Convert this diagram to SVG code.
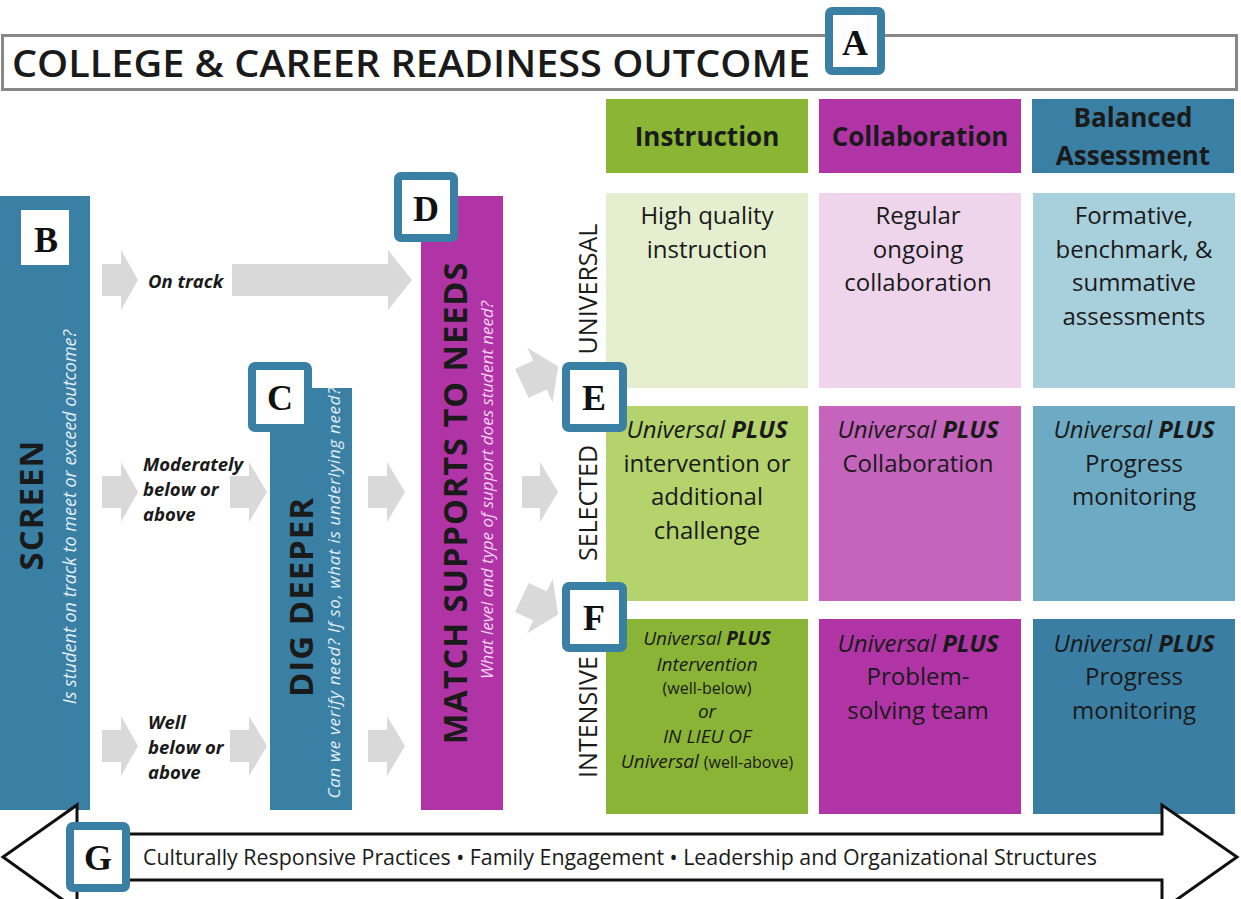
<svg xmlns="http://www.w3.org/2000/svg" width="1241" height="899" viewBox="0 0 1241 899">
<style>
text{font-family:"Open Sans","Liberation Sans",sans-serif;fill:#1a1a1a}
.cell{font-size:24px;text-anchor:middle}
.hdr{font-size:26px;font-weight:bold;text-anchor:middle}
.it{font-style:italic}
.bi{font-style:italic;font-weight:bold}
.lbl{font-family:"Liberation Serif",serif;font-weight:bold;font-size:36px;text-anchor:middle;fill:#111}
.badge{fill:#fff;stroke:#3a7fa4;stroke-width:8}
.arr{fill:#d9d9d9}
.flow{font-size:18.5px;font-style:italic;font-weight:bold}
.big{font-weight:bold;text-anchor:middle;letter-spacing:1px}
.sub{font-style:italic;text-anchor:middle}
.tier{font-size:25px;text-anchor:middle}
.small{font-size:19px;text-anchor:middle}
</style>
<rect width="1241" height="899" fill="#fff"/>

<g id="title">
<rect x="2.5" y="35.5" width="1234" height="54" fill="#fff" stroke="#888" stroke-width="3"/>
<text x="12" y="77" font-size="38" font-weight="600" textLength="798" lengthAdjust="spacingAndGlyphs">COLLEGE &amp; CAREER READINESS OUTCOME</text>
</g>
<g id="badge-A"><rect class="badge" x="829" y="11" width="52" height="60" rx="3"/><text class="lbl" x="855" y="55">A</text></g>

<g id="headers">
<rect x="606" y="99" width="202" height="74" fill="#8ab535"/>
<text class="hdr" x="707" y="146">Instruction</text>
<rect x="819" y="99" width="202" height="74" fill="#b134a7"/>
<text class="hdr" x="920" y="146">Collaboration</text>
<rect x="1032" y="99" width="202" height="74" fill="#3a7fa4"/>
<text class="hdr" x="1133" y="127">Balanced</text>
<text class="hdr" x="1133" y="165">Assessment</text>
</g>

<g id="universal-row">
<rect x="606" y="193" width="202" height="195" fill="#e5efd0"/>
<text class="cell" x="707" y="224">High quality</text>
<text class="cell" x="707" y="258">instruction</text>
<rect x="819" y="193" width="202" height="195" fill="#eed5ec"/>
<text class="cell" x="918" y="224">Regular</text>
<text class="cell" x="918" y="258">ongoing</text>
<text class="cell" x="918" y="291">collaboration</text>
<rect x="1033" y="193" width="202" height="195" fill="#a8cfdc"/>
<text class="cell" x="1134" y="224">Formative,</text>
<text class="cell" x="1134" y="258">benchmark, &amp;</text>
<text class="cell" x="1134" y="291">summative</text>
<text class="cell" x="1134" y="325">assessments</text>
<text class="tier" transform="translate(597,289) rotate(-90)">UNIVERSAL</text>
</g>

<g id="selected-row">
<rect x="606" y="406" width="202" height="195" fill="#b4d36d"/>
<text class="cell" x="707" y="438"><tspan class="it">Universal </tspan><tspan class="bi">PLUS</tspan></text>
<text class="cell" x="707" y="472">intervention or</text>
<text class="cell" x="707" y="505">additional</text>
<text class="cell" x="707" y="539">challenge</text>
<rect x="819" y="406" width="202" height="195" fill="#c464bd"/>
<text class="cell" x="918" y="438"><tspan class="it">Universal </tspan><tspan class="bi">PLUS</tspan></text>
<text class="cell" x="918" y="472">Collaboration</text>
<rect x="1033" y="406" width="202" height="195" fill="#6dabc4"/>
<text class="cell" x="1134" y="438"><tspan class="it">Universal </tspan><tspan class="bi">PLUS</tspan></text>
<text class="cell" x="1134" y="472">Progress</text>
<text class="cell" x="1134" y="505">monitoring</text>
<text class="tier" transform="translate(597,503) rotate(-90)">SELECTED</text>
</g>

<g id="intensive-row">
<rect x="606" y="619" width="202" height="195" fill="#8ab436"/>
<text class="small" x="707" y="645"><tspan class="it">Universal </tspan><tspan class="bi">PLUS</tspan></text>
<text class="small it" x="707" y="671">Intervention</text>
<text x="707" y="694" font-size="16" text-anchor="middle">(well-below)</text>
<text class="small it" x="707" y="718">or</text>
<text class="small it" x="707" y="743">IN LIEU OF</text>
<text class="small" x="707" y="768"><tspan class="it">Universal </tspan><tspan font-size="16">(well-above)</tspan></text>
<rect x="819" y="619" width="202" height="195" fill="#b134a7"/>
<text class="cell" x="918" y="652"><tspan class="it">Universal </tspan><tspan class="bi">PLUS</tspan></text>
<text class="cell" x="918" y="685">Problem-</text>
<text class="cell" x="918" y="719">solving team</text>
<rect x="1033" y="619" width="202" height="195" fill="#3b7ea3"/>
<text class="cell" x="1134" y="652"><tspan class="it">Universal </tspan><tspan class="bi">PLUS</tspan></text>
<text class="cell" x="1134" y="685">Progress</text>
<text class="cell" x="1134" y="719">monitoring</text>
<text class="tier" transform="translate(597,717) rotate(-90)">INTENSIVE</text>
</g>

<g id="connectors">
<polygon class="arr" points="102,264 121,264 121,250 138,280 121,310 121,296 102,296"/>
<polygon class="arr" points="232,264 388,264 388,250 412,280 388,310 388,296 232,296"/>
<polygon class="arr" points="102,476 121,476 121,462 138,492 121,522 121,508 102,508"/>
<polygon class="arr" points="230,476 249,476 249,462 267,492 249,522 249,508 230,508"/>
<polygon class="arr" points="368,476 387,476 387,462 405,492 387,522 387,508 368,508"/>
<polygon class="arr" points="102,730 121,730 121,716 138,746 121,776 121,762 102,762"/>
<polygon class="arr" points="230,730 249,730 249,716 267,746 249,776 249,762 230,762"/>
<polygon class="arr" points="368,730 387,730 387,716 405,746 387,776 387,762 368,762"/>
<polygon class="arr" points="522,476 540,476 540,462 558,492 540,522 540,508 522,508"/>
<polygon class="arr" transform="translate(540,375) rotate(-25)" points="-20,-16 0,-16 0,-30 20,0 0,30 0,16 -20,16"/>
<polygon class="arr" transform="translate(540,606) rotate(25)" points="-20,-16 0,-16 0,-30 20,0 0,30 0,16 -20,16"/>
<text class="flow" x="148" y="288">On track</text>
<text class="flow" x="143" y="471">Moderately</text>
<text class="flow" x="143" y="496">below or</text>
<text class="flow" x="143" y="521">above</text>
<text class="flow" x="148" y="729">Well</text>
<text class="flow" x="148" y="754">below or</text>
<text class="flow" x="148" y="779">above</text>
</g>

<g id="screen">
<rect x="0" y="196" width="90" height="614" fill="#3a7fa4"/>
<rect x="21" y="210" width="48" height="55" fill="#fff"/>
<text class="lbl" x="46" y="252">B</text>
<text class="big" font-size="33" transform="translate(43,505) rotate(-90)">SCREEN</text>
<text class="sub" font-size="18" style="fill:#e3eef5" transform="translate(76,517) rotate(-90)">Is student on track to meet or exceed outcome?</text>
</g>

<g id="dig-deeper">
<rect x="270" y="388" width="82" height="422" fill="#3a7fa4"/>
<rect class="badge" x="252" y="366" width="56" height="62" rx="3"/>
<text class="lbl" x="280" y="410">C</text>
<text class="big" font-size="33" transform="translate(313,597) rotate(-90)">DIG DEEPER</text>
<text class="sub" font-size="17" style="fill:#e3eef5" transform="translate(340,593) rotate(-90)" textLength="411" lengthAdjust="spacing">Can we verify need? If so, what is underlying need?</text>
</g>

<g id="match">
<rect x="421" y="196" width="82" height="614" fill="#b134a7"/>
<rect class="badge" x="398" y="176" width="56" height="62" rx="3"/>
<text class="lbl" x="426" y="221">D</text>
<text class="big" font-size="32.5" transform="translate(467,503) rotate(-90)">MATCH SUPPORTS TO NEEDS</text>
<text class="sub" font-size="17" style="fill:#f3d3ef" transform="translate(493,490) rotate(-90)">What level and type of support does student need?</text>
</g>

<g id="badge-E"><rect class="badge" x="566" y="366" width="57" height="62" rx="3"/><text class="lbl" x="594" y="410">E</text></g>
<g id="badge-F"><rect class="badge" x="566" y="586" width="57" height="62" rx="3"/><text class="lbl" x="594" y="630">F</text></g>

<g id="foundation">
<polygon points="77,805 77,834 1162,834 1162,805 1237,857 1162,910 1162,880 77,880 77,910 3,857" fill="#fff" stroke="#111" stroke-width="3" stroke-linejoin="miter"/>
<text x="143" y="865" font-size="21" textLength="954" lengthAdjust="spacingAndGlyphs">Culturally Responsive Practices • Family Engagement • Leadership and Organizational Structures</text>
</g>
<g id="badge-G"><rect class="badge" x="70" y="826" width="56" height="62" rx="3"/><text class="lbl" x="98" y="870">G</text></g>
</svg>
